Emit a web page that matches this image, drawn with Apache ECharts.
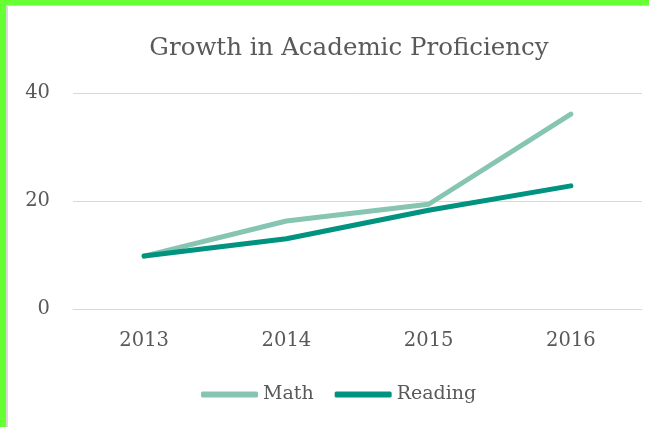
<!DOCTYPE html>
<html>
<head>
<meta charset="utf-8">
<script src="https://cdn.jsdelivr.net/npm/echarts@6/dist/echarts.min.js"></script>
<style>
  html, body { margin: 0; padding: 0; background: #fff; }
  #frame { position: absolute; left: 0; top: 0; width: 649px; height: 427px; background: #66ff33; }
  #inner { position: absolute; left: 6px; top: 5px; width: 643px; height: 422px; background: #fff;
           border-left: 2px solid #d9d9d9; border-top: 1px solid #d9d9d9; box-sizing: border-box; }
  #main { position: absolute; left: 0; top: 0; width: 649px; height: 427px; }
</style>
</head>
<body>
<div id="frame"><div id="inner"></div></div>
<div id="main"></div>
<script>
const years = ['2013', '2014', '2015', '2016'];
const math = [9.8, 16.3, 19.4, 36.1];
const reading = [9.8, 13.0, 18.3, 22.8];
const yTicks = [0, 20, 40];

const chart = echarts.init(document.getElementById('main'));
const font = 'DejaVu Serif';

chart.setOption({
  animation: false,
  title: {
    text: 'Growth in Academic Proficiency',
    left: 344,
    textAlign: 'center',
    top: 31,
    textStyle: { fontFamily: font, fontSize: 24.5, fontWeight: 'normal', color: '#595959' }
  },
  legend: {
    left: 196,
    top: 380,
    itemWidth: 57,
    itemHeight: 6,
    itemGap: 21,
    icon: 'roundRect',
    textStyle: { fontFamily: font, fontSize: 19, color: '#595959' },
    data: ['Math', 'Reading']
  },
  grid: { left: 73, right: 7, top: 93, bottom: 118, containLabel: false },
  xAxis: {
    type: 'category',
    data: years,
    axisLine: { lineStyle: { color: '#d9d9d9', width: 1 } },
    axisTick: { show: false },
    axisLabel: { fontFamily: font, fontSize: 19.5, color: '#595959', margin: 22 }
  },
  yAxis: {
    type: 'value',
    min: yTicks[0],
    max: yTicks[yTicks.length - 1],
    interval: 20,
    axisLine: { show: false },
    axisTick: { show: false },
    splitLine: { lineStyle: { color: '#d9d9d9', width: 1 } },
    axisLabel: { fontFamily: font, fontSize: 19.5, color: '#595959', margin: 23 }
  },
  series: [
    {
      name: 'Math', type: 'line', data: math, symbol: 'none',
      itemStyle: { color: '#86c5b2' },
      lineStyle: { color: '#86c5b2', width: 5, cap: 'round', join: 'round' }
    },
    {
      name: 'Reading', type: 'line', data: reading, symbol: 'none',
      itemStyle: { color: '#00937f' },
      lineStyle: { color: '#00937f', width: 5, cap: 'round', join: 'round' }
    }
  ]
});
</script>
</body>
</html>
